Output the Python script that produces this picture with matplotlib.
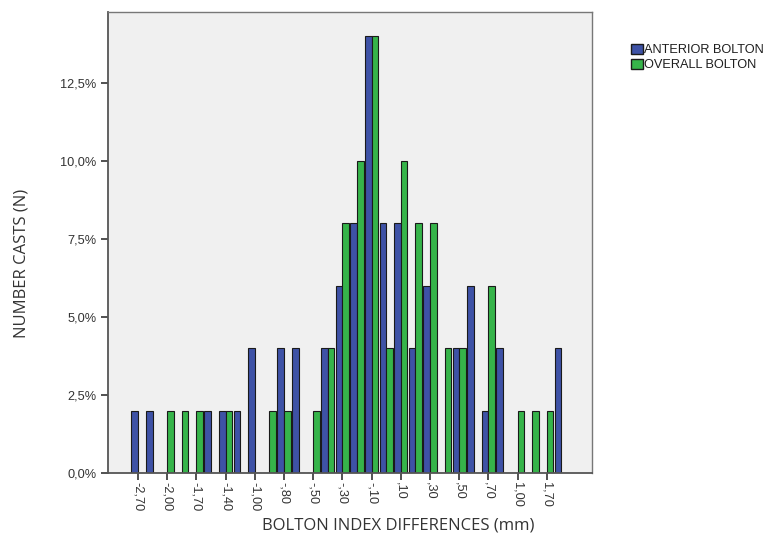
import matplotlib.pyplot as plt
import numpy as np
from matplotlib.patches import Patch

# category labels (only every other one is printed on the axis)
categories = ['-2,70', '-2,10', '-2,00', '-1,80', '-1,70', '-1,50', '-1,40', '-1,10',
              '-1,00', '-,90', '-,80', '-,60', '-,50', '-,40', '-,30', '-,20',
              '-,10', ',00', ',10', ',20', ',30', ',40', ',50', ',60',
              ',70', ',80', '1,00', '1,10', '1,70', '2,00']

# percentages per category
anterior = [2, 2, 0, 0, 0, 2, 2, 2, 4, 0, 4, 4, 0, 4, 6, 8,
            14, 8, 8, 4, 6, 0, 4, 6, 2, 4, 0, 0, 0, 4]
overall = [0, 0, 2, 2, 2, 0, 2, 0, 0, 2, 2, 0, 2, 4, 8, 10,
           14, 4, 10, 8, 8, 4, 4, 0, 6, 0, 2, 2, 2, 0]

y_ticks = [0, 2.5, 5.0, 7.5, 10.0, 12.5]
y_tick_labels = ['0,0%', '2,5%', '5,0%', '7,5%', '10,0%', '12,5%']

blue = '#3e52a6'
green = '#36b44a'

plt.rcParams['font.family'] = ['Liberation Sans', 'DejaVu Sans']

fig = plt.figure(figsize=(7.72, 5.37), dpi=100)
ax = fig.add_axes([108 / 772, 1 - 473 / 537, 484 / 772, 461 / 537])
ax.set_facecolor('#f0f0f0')

x = np.arange(len(categories))
w = 0.45
ax.bar(x - w / 2, anterior, width=w, color=blue, edgecolor='#1a1a1a', linewidth=0.8)
ax.bar(x + w / 2, overall, width=w, color=green, edgecolor='#1a1a1a', linewidth=0.8)

ax.set_xlim(-2.05, 31.1)
ax.set_ylim(0, 14.78)

ax.set_xticks(x[::2])
ax.set_xticklabels(categories[::2], rotation=270, fontsize=9.2, color='#333333')
ax.set_yticks(y_ticks)
ax.set_yticklabels(y_tick_labels, fontsize=9.2, color='#333333')
ax.tick_params(axis='both', direction='out', length=5, width=1.2, color='#333333')
ax.tick_params(axis='x', pad=1.5)

for side in ['left', 'bottom']:
    ax.spines[side].set_color('#555555')
    ax.spines[side].set_linewidth(1.3)
for side in ['top', 'right']:
    ax.spines[side].set_color('#777777')
    ax.spines[side].set_linewidth(1.0)

fig.text(398 / 772, 1 - 525 / 537, 'BOLTON INDEX DIFFERENCES (mm)', ha='center', va='center',
         fontsize=12, color='#333333', family='Open Sans')
fig.text(22 / 772, 1 - 263 / 537, 'NUMBER CASTS (N)', ha='center', va='center', rotation=90,
         fontsize=12, color='#333333', family='Open Sans')

handles = [Patch(facecolor=blue, edgecolor='#1a1a1a', label='ANTERIOR BOLTON'),
           Patch(facecolor=green, edgecolor='#1a1a1a', label='OVERALL BOLTON')]
leg = fig.legend(handles=handles, loc='upper left', bbox_to_anchor=(631 / 772, 1 - 43.5 / 537),
                 frameon=False, fontsize=9.2, handlelength=0.9, handleheight=0.9,
                 handletextpad=0.15, labelspacing=0.2, borderaxespad=0, borderpad=0)
for t in leg.get_texts():
    t.set_color('#1e1e1e')

fig.savefig('out.png', dpi=100)
